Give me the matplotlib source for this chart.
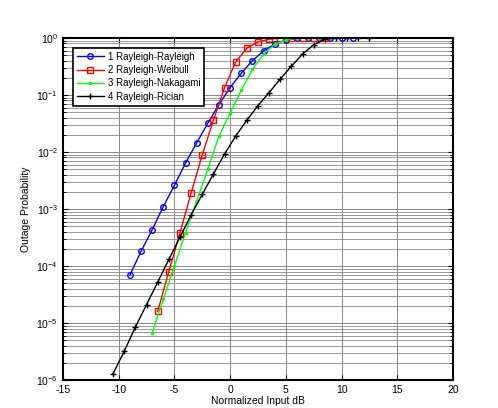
import matplotlib
matplotlib.use("Agg")
import matplotlib.pyplot as plt
import numpy as np

plt.rcParams['font.family'] = ['Liberation Sans', 'DejaVu Sans']
plt.rcParams['mathtext.fontset'] = 'custom'
plt.rcParams['mathtext.rm'] = 'Liberation Sans'
plt.rcParams['axes.unicode_minus'] = False

# Rayleigh-Rayleigh
x_rr = [-9, -8, -7, -6, -5, -4, -3, -2, -1, 0, 1, 2, 3, 4, 5, 6, 7, 8, 9, 10, 11]
p_rr = [6.9e-5, 1.8e-4, 4.3e-4, 1.1e-3, 2.6e-3, 6.4e-3, 1.45e-2, 3.2e-2, 6.8e-2, 0.135,
        0.24, 0.40, 0.59, 0.78, 0.92, 0.98, 0.995, 1.0, 1.0, 1.0, 1.0]

# Rayleigh-Weibull
x_rw = [-6.5, -5.5, -4.5, -3.5, -2.5, -1.5, -0.5, 0.5, 1.5, 2.5, 3.5, 4.5, 5.5, 6.5, 7.5, 8.5]
p_rw = [1.6e-5, 8e-5, 3.8e-4, 1.9e-3, 8.9e-3, 0.036, 0.135, 0.38, 0.66, 0.85, 0.95, 0.99,
        1.0, 1.0, 1.0, 1.0]

# Rayleigh-Nakagami
x_rn = [-7, -6, -5, -4, -3, -2, -1, 0, 1, 2, 3, 4, 5, 6, 7, 8]
p_rn = [6.7e-6, 2.6e-5, 1e-4, 3.8e-4, 1.4e-3, 5e-3, 0.019, 0.048, 0.12, 0.28, 0.52, 0.77,
        0.93, 0.99, 1.0, 1.0]

# Rayleigh-Rician
x_rc = [-10.5, -9.5, -8.5, -7.5, -6.5, -5.5, -4.5, -3.5, -2.5, -1.5, -0.5, 0.5, 1.5, 2.5,
        3.5, 4.5, 5.5, 6.5, 7.5, 8.5, 9.5, 10.5, 11.5, 12.5]
p_rc = [1.3e-6, 3.2e-6, 8.5e-6, 2.1e-5, 5.2e-5, 1.3e-4, 3.2e-4, 7.9e-4, 1.8e-3, 4.1e-3,
        9.2e-3, 0.019, 0.036, 0.065, 0.11, 0.19, 0.32, 0.52, 0.76, 0.94, 0.99, 1.0, 1.0, 1.0]

fig = plt.figure(figsize=(4.98, 4.08), dpi=100)
ax = fig.add_axes([0.1265, 0.0686, 0.783, 0.8384])

ax.semilogy(x_rr, p_rr, color='#0000ff', marker='o', ms=4, mfc='none', lw=1,
            label='1 Rayleigh-Rayleigh')
ax.semilogy(x_rw, p_rw, color='#ff0000', marker='s', ms=4, mfc='none', lw=1,
            label='2 Rayleigh-Weibull')
ax.semilogy(x_rn, p_rn, color='#00ff00', marker='.', ms=3, lw=1,
            label='3 Rayleigh-Nakagami')
ax.semilogy(x_rc, p_rc, color='#000000', marker='+', ms=5, lw=1,
            label='4 Rayleigh-Rician')

ax.set_xlim(-15, 20)
ax.set_ylim(1e-6, 1)
ax.set_xticks(np.arange(-15, 21, 5))

ax.grid(True, which='major', color='#888888', lw=0.7)
ax.grid(True, which='minor', axis='y', color='#888888', lw=0.6)
ax.tick_params(which='both', direction='in', labelsize=7.5, top=True, right=True)
ax.tick_params(which='minor', length=2)
for s in ax.spines.values():
    s.set_linewidth(1.5)

ax.set_xlabel('Normalized Input dB', fontsize=7.5, labelpad=1)
ax.set_ylabel('Outage Probability', fontsize=7.5, labelpad=4)

leg = ax.legend(loc='upper left', fontsize=7, fancybox=False, framealpha=1,
                edgecolor='black', borderaxespad=1.0, handlelength=2.8,
                labelspacing=0.35, borderpad=0.4, handletextpad=0.4)
leg.get_frame().set_linewidth(1.2)

fig.savefig('out.png', dpi=100)
